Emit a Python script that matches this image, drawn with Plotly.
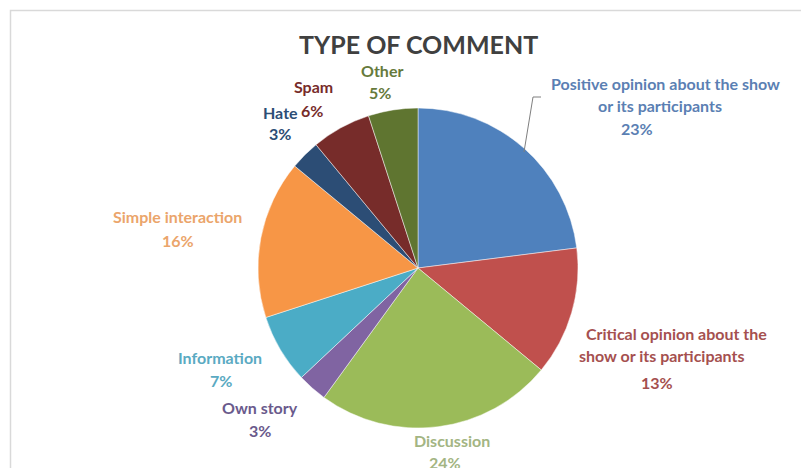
import plotly.graph_objects as go

# The page places the figure with an 8px body margin; size the figure to fit the window.
OFF = 8
W, H = 809 - OFF, 468 - OFF

categories = ["Positive opinion about the show or its participants",
              "Critical opinion about the show or its participants",
              "Discussion", "Own story", "Information", "Simple interaction",
              "Hate", "Spam", "Other"]
values = [23, 13, 24, 3, 7, 16, 3, 6, 5]
slice_colors = ["#4F81BD", "#C0504D", "#9BBB59", "#8064A2", "#4BACC6",
                "#F79646", "#2C4D75", "#772C2A", "#5F7530"]
label_colors = ["#5B7FB3", "#A5504F", "#A3B583", "#6A5A8C", "#5AAAC2",
                "#EBA56B", "#2C4D75", "#772C2A", "#667A3C"]
label_lines = [
    ["Positive opinion about the show", "or its participants"],
    ["Critical opinion about the", "show or its participants"],
    ["Discussion"], ["Own story"], ["Information"], ["Simple interaction"],
    ["Hate"], ["Spam"], ["Other"],
]

def px(x):
    return (x - OFF) / W

def py(y):
    return 1 - (y - OFF) / H

cx, cy, r = 418, 268, 160

fig = go.Figure(go.Pie(
    labels=categories, values=values, sort=False, direction="clockwise",
    rotation=0, textinfo="none", hoverinfo="label+percent",
    marker=dict(colors=slice_colors, line=dict(color="rgba(255,255,255,0.6)", width=0.8)),
    domain=dict(x=[px(cx - r), px(cx + r)], y=[py(cy + r), py(cy - r)]),
    showlegend=False,
))

label_pos = [
    [(665, 83), (660, 105), (637, 128)],
    [(676, 333), (662, 355), (657, 382)],
    [(452, 440), (445, 462)],
    [(260, 407), (260, 430)],
    [(220, 357), (221, 380)],
    [(177, 217), (178, 240)],
    [(280, 112), (280, 133)],
    [(313, 86), (312, 110)],
    [(382, 70), (380, 92)],
]

annotations = []
for i, lines in enumerate(label_lines):
    texts = lines + [f"{values[i]}%"]
    for t, (x, y) in zip(texts, label_pos[i]):
        annotations.append(dict(
            x=px(x), y=py(y), xref="paper", yref="paper", text=t, showarrow=False,
            xanchor="center", yanchor="middle",
            font=dict(family="Lato", size=16, color=label_colors[i], weight="bold"),
        ))

annotations.append(dict(
    x=px(418), y=py(44), xref="paper", yref="paper", text="TYPE OF COMMENT",
    showarrow=False, xanchor="center", yanchor="middle",
    font=dict(family="Lato", size=25, color="#404040", weight="bold"),
))

shapes = [
    dict(type="rect", xref="paper", yref="paper", x0=px(10.5), x1=1.02, y0=-0.02, y1=py(10.5),
         line=dict(color="#D9D9D9", width=1.5), fillcolor="rgba(0,0,0,0)"),
    dict(type="path", xref="paper", yref="paper",
         path=f"M {px(541)} {py(97)} L {px(533)} {py(97)} L {px(524)} {py(152)}",
         line=dict(color="#7F7F7F", width=1)),
]

fig.update_layout(
    width=W, height=H, margin=dict(l=0, r=0, t=0, b=0),
    paper_bgcolor="white", plot_bgcolor="white",
    annotations=annotations, shapes=shapes,
)

fig.write_html("out.html")
